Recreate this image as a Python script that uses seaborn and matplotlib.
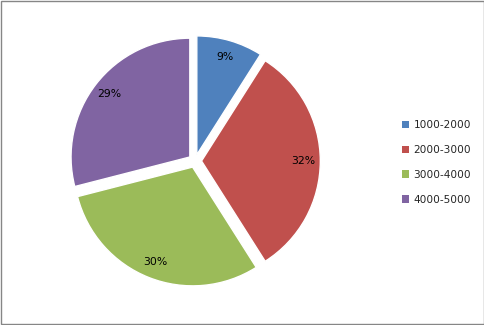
import matplotlib
matplotlib.use("Agg")
import matplotlib.pyplot as plt
import seaborn as sns
from matplotlib.patches import Patch, Rectangle

categories = ["1000-2000", "2000-3000", "3000-4000", "4000-5000"]
values = [9, 32, 30, 29]
colors = ["#4F81BD", "#C0504D", "#9BBB59", "#8064A2"]

sns.set_theme(style="white")
plt.rcParams['font.family'] = ['DejaVu Sans']
palette = sns.color_palette(colors)

fig = plt.figure(figsize=(4.85, 3.25), dpi=100)
ax = fig.add_axes([0.0763, 0.0185, 0.6515, 0.9723])

wedges, texts, autotexts = ax.pie(
    values, colors=palette, startangle=90, counterclock=False,
    explode=[0.055] * len(values), autopct='%1.0f%%', pctdistance=0.86,
    textprops=dict(fontsize=7.8, color='black'), radius=1.0,
)
ax.set_xlim(-1.33, 1.33)
ax.set_ylim(-1.33, 1.33)
ax.set_aspect('equal')
ax.axis('off')

handles = [Patch(facecolor=c, edgecolor='none') for c in palette]
fig.legend(handles, categories, loc='center left',
           bbox_to_anchor=(402 / 485, 1 - 162.5 / 325), frameon=False,
           fontsize=7.6, handlelength=0.7, handleheight=0.7,
           handletextpad=0.4, labelspacing=1.4, borderpad=0, borderaxespad=0)

fig.patches.append(Rectangle((0.6 / 485, 0.6 / 325), 483.8 / 485, 323.8 / 325,
                             transform=fig.transFigure,
                             fill=False, edgecolor='#868686', linewidth=1.0))

fig.savefig('out.png', dpi=100, facecolor='white')
